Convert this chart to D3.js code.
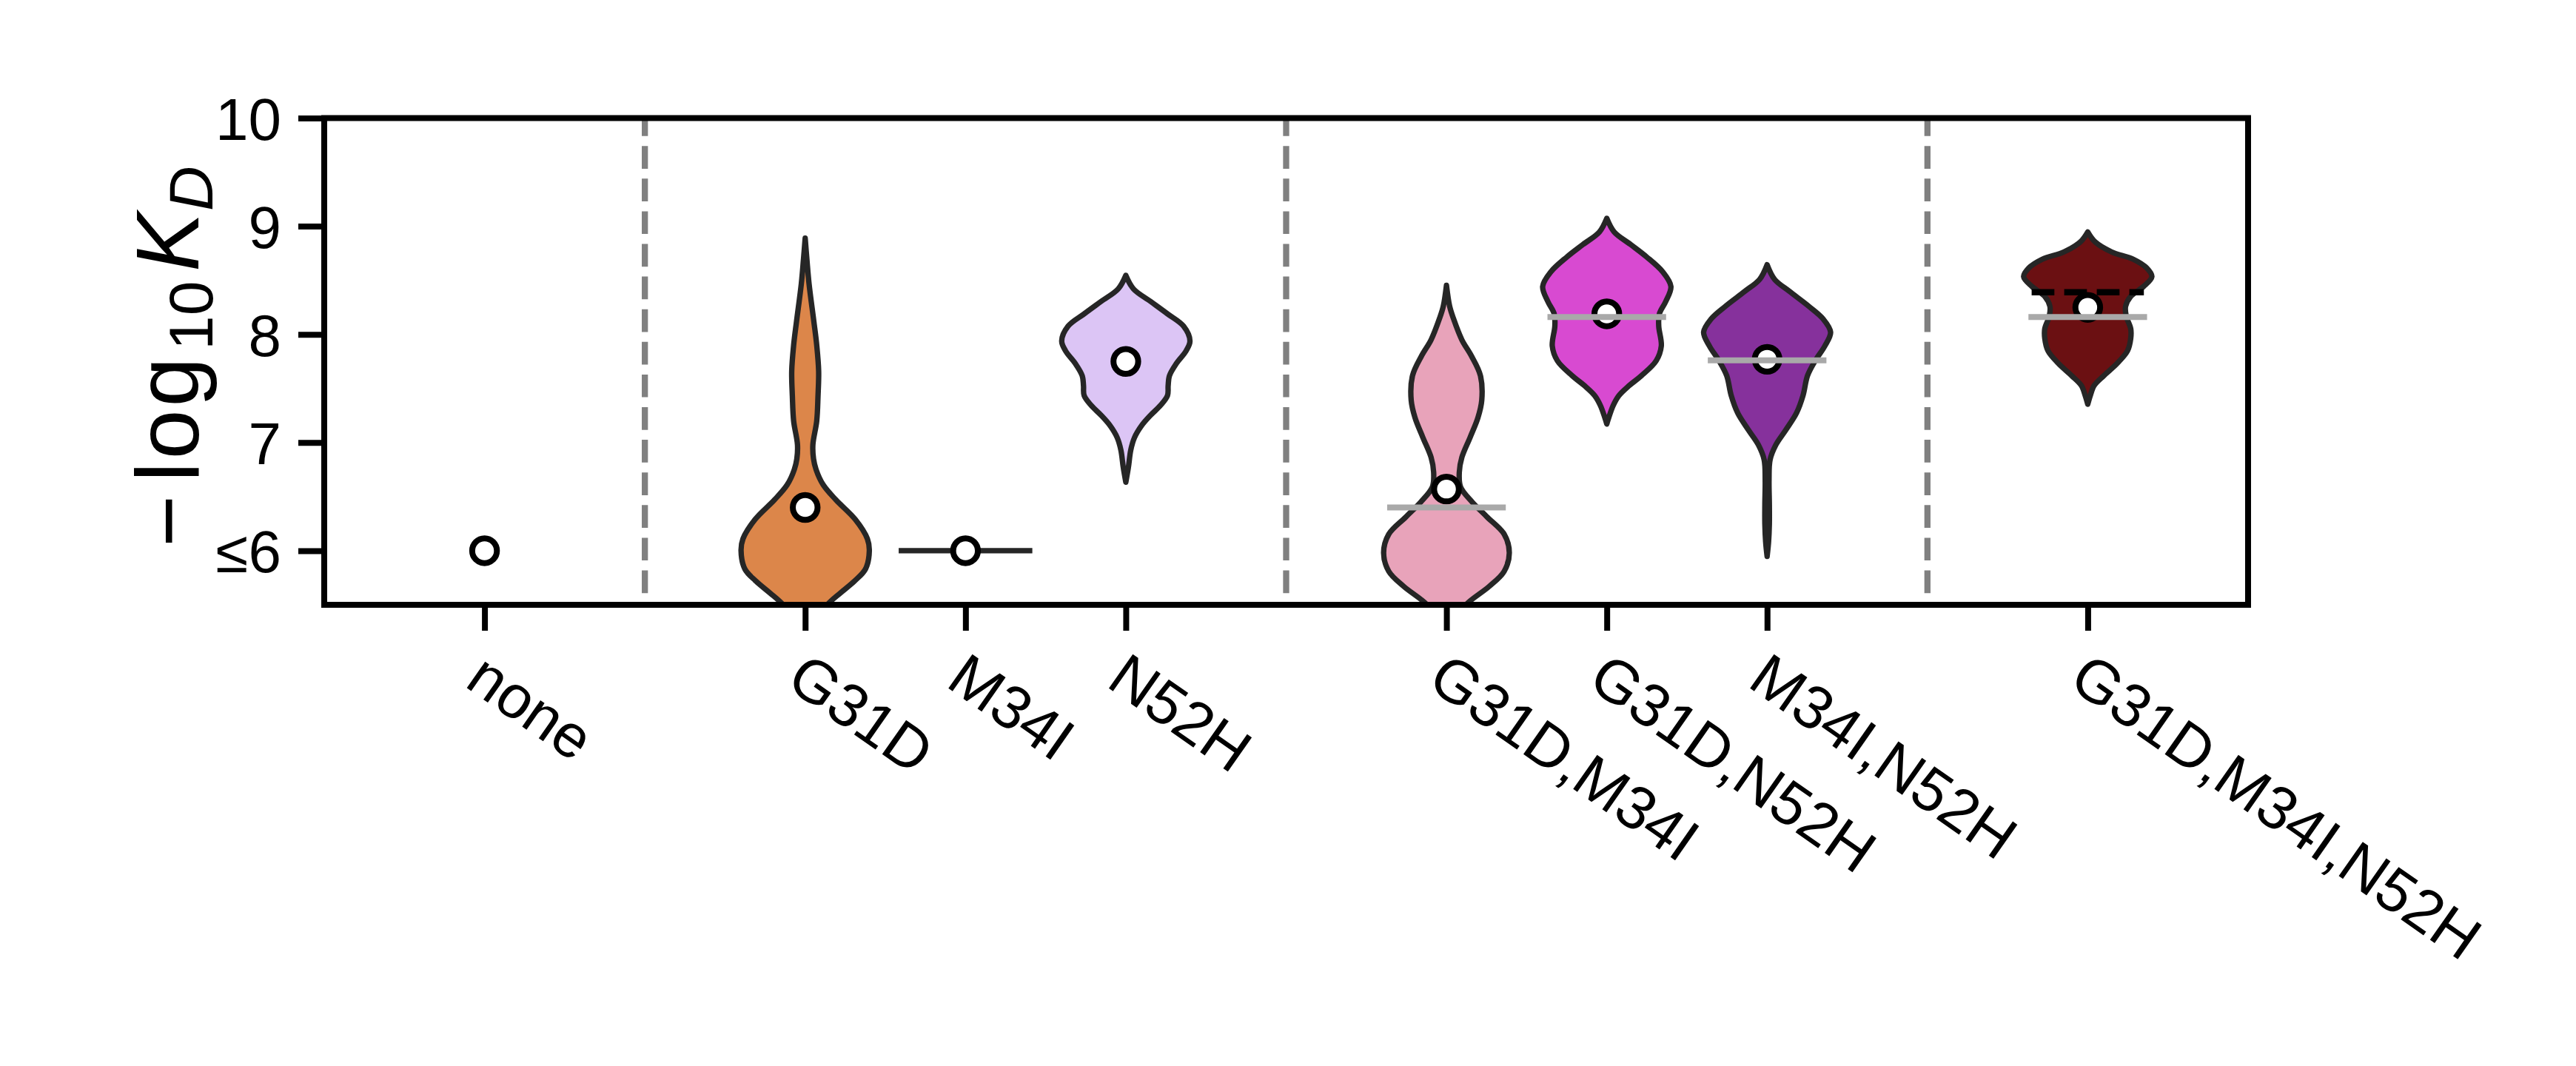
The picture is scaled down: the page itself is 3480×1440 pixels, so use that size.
<!DOCTYPE html>
<html>
<head>
<meta charset="utf-8">
<script src="https://cdn.jsdelivr.net/npm/d3@7"></script>
<style>
  html, body { margin: 0; padding: 0; background: #ffffff; }
  svg { display: block; font-family: "Liberation Sans", Arial, sans-serif; }
</style>
</head>
<body>
<svg id="chart" width="3480" height="1440"></svg>
<script>
// ---------------- data ----------------
const categories = ["none", "G31D", "M34I", "N52H", "G31D,M34I", "G31D,N52H", "M34I,N52H", "G31D,M34I,N52H"];
const mutationCount = [0, 1, 1, 1, 2, 2, 2, 3];
const measured = [6.00, 6.40, 6.00, 7.75, 6.57, 8.19, 7.77, 8.25];
const additiveExpectation = [null, null, null, null, 6.40, 8.16, 7.76, 8.16];
const pairwiseExpectation = [null, null, null, null, null, null, null, 8.39];
const yTickValues = [6, 7, 8, 9, 10];
const yTickLabels = ["≤6", "7", "8", "9", "10"];
const violinColors = [null, "#dc864a", "#262626", "#dcc5f5", "#e8a3ba", "#d84ad1", "#86319c", "#6b1012"];

// violin outlines: [value, relative half-width]
const densityNone = [];
const densityG31D = [[8.89,0],[8.69,0.027],[8.47,0.06],[8.12,0.135],[7.9,0.18],[7.66,0.21],[7.43,0.2],[7.2,0.18],[6.98,0.12],[6.85,0.13],[6.75,0.17],[6.61,0.28],[6.47,0.48],[6.29,0.78],[6.11,0.97],[6.0,1.0],[5.83,0.94],[5.72,0.77],[5.61,0.55],[5.51,0.36],[5.4,0.22],[5.25,0.12],[5.1,0.05],[4.95,0]];
const densityM34I = [[6.0,1]];
const densityN52H = [[8.546,0],[8.42,0.12],[8.305,0.385],[8.19,0.65],[8.076,0.9],[7.939,1.0],[7.848,0.94],[7.733,0.79],[7.618,0.68],[7.527,0.66],[7.435,0.65],[7.343,0.54],[7.252,0.385],[7.16,0.25],[7.046,0.135],[6.931,0.077],[6.771,0.04],[6.634,0]];
const densityG31DM34I = [[8.454,0],[8.259,0.05],[8.145,0.11],[7.95,0.24],[7.8,0.39],[7.618,0.53],[7.39,0.55],[7.229,0.49],[7.05,0.37],[6.863,0.24],[6.726,0.2],[6.589,0.22],[6.451,0.4],[6.314,0.63],[6.153,0.9],[5.981,0.98],[5.81,0.9],[5.672,0.67],[5.51,0.32],[5.4,0.18],[5.25,0.08],[5.1,0.02],[5.0,0]];
const densityG31DN52H = [[9.073,0],[8.947,0.115],[8.832,0.37],[8.717,0.62],[8.58,0.87],[8.443,1.0],[8.305,0.92],[8.19,0.82],[8.076,0.81],[7.893,0.85],[7.756,0.77],[7.618,0.54],[7.527,0.35],[7.435,0.19],[7.343,0.1],[7.229,0.03],[7.172,0]];
const densityM34IN52H = [[8.644,0],[8.51,0.115],[8.397,0.35],[8.26,0.65],[8.145,0.87],[8.02,0.99],[7.893,0.9],[7.756,0.75],[7.618,0.63],[7.435,0.56],[7.275,0.46],[7.115,0.29],[6.977,0.135],[6.84,0.046],[6.656,0.03],[6.427,0.035],[6.244,0.035],[6.084,0.023],[5.947,0]];
const densityG31DM34IN52H = [[8.947,0],[8.855,0.115],[8.763,0.37],[8.695,0.71],[8.614,0.92],[8.534,1.0],[8.443,0.87],[8.351,0.67],[8.259,0.59],[8.168,0.6],[8.053,0.67],[7.962,0.67],[7.848,0.62],[7.733,0.46],[7.618,0.25],[7.527,0.1],[7.435,0.04],[7.355,0]];
const densities = [densityNone, densityG31D, densityM34I, densityN52H, densityG31DM34I, densityG31DN52H, densityM34IN52H, densityG31DM34IN52H];

// ---------------- layout ----------------
const W = 3480, H = 1440;
const plot = { left: 438, right: 3037, top: 159.5, bottom: 817 };
const svg = d3.select("#chart");

// categorical slots with separators between mutation-count groups
const slots = [];
categories.forEach((c, i) => {
  if (i > 0 && mutationCount[i] !== mutationCount[i - 1]) slots.push("sep" + mutationCount[i]);
  slots.push(c);
});
const separators = slots.filter(s => s.startsWith("sep"));

const x = d3.scalePoint().domain(slots).range([plot.left, plot.right]).padding(1);
const y = d3.scaleLinear().domain([5.5, 10]).range([plot.bottom, plot.top]);
const step = x.step();
const halfViolin = 0.4 * step;

svg.append("rect").attr("width", W).attr("height", H).attr("fill", "#ffffff");

svg.append("clipPath").attr("id", "plotClip")
  .append("rect")
  .attr("x", plot.left).attr("y", plot.top)
  .attr("width", plot.right - plot.left).attr("height", plot.bottom - plot.top);

const g = svg.append("g").attr("clip-path", "url(#plotClip)");

// separators
g.selectAll("line.sep").data(separators).join("line")
  .attr("class", "sep")
  .attr("x1", d => x(d)).attr("x2", d => x(d))
  .attr("y1", y(10)).attr("y2", y(5.5))
  .attr("stroke", "#808080").attr("stroke-width", 8.3)
  .attr("stroke-dasharray", "30.7 13.4").attr("stroke-dashoffset", 6.4);

// violins
const area = d3.area()
  .curve(d3.curveCatmullRom.alpha(0.5))
  .y(d => y(d[0]));

categories.forEach((c, i) => {
  const prof = densities[i];
  const cx = x(c);
  if (prof.length === 0) return;
  if (prof.length === 1) {
    g.append("line")
      .attr("x1", cx - halfViolin).attr("x2", cx + halfViolin)
      .attr("y1", y(prof[0][0])).attr("y2", y(prof[0][0]))
      .attr("stroke", "#262626").attr("stroke-width", 7.3)
      .attr("stroke-linecap", "square");
    return;
  }
  area.x0(d => cx - d[1] * halfViolin).x1(d => cx + d[1] * halfViolin);
  g.append("path")
    .datum(prof)
    .attr("d", area)
    .attr("fill", violinColors[i])
    .attr("stroke", "#262626")
    .attr("stroke-width", 7.3)
    .attr("stroke-linejoin", "round");
});

// measured points
g.selectAll("circle.pt").data(categories).join("circle")
  .attr("class", "pt")
  .attr("cx", d => x(d))
  .attr("cy", (d, i) => y(measured[i]))
  .attr("r", 16.7)
  .attr("fill", "#ffffff")
  .attr("stroke", "#000000")
  .attr("stroke-width", 8);

// additive expectation (grey)
categories.forEach((c, i) => {
  if (additiveExpectation[i] == null) return;
  g.append("line")
    .attr("x1", x(c) - 0.37 * step).attr("x2", x(c) + 0.37 * step)
    .attr("y1", y(additiveExpectation[i])).attr("y2", y(additiveExpectation[i]))
    .attr("stroke", "#a9a9a9").attr("stroke-width", 8);
});

// pairwise expectation (black dashed)
categories.forEach((c, i) => {
  if (pairwiseExpectation[i] == null) return;
  g.append("line")
    .attr("x1", x(c) - 0.35 * step).attr("x2", x(c) + 0.35 * step)
    .attr("y1", y(pairwiseExpectation[i])).attr("y2", y(pairwiseExpectation[i]))
    .attr("stroke", "#000000").attr("stroke-width", 8.3)
    .attr("stroke-dasharray", "30.7 13.3");
});

// frame
svg.append("rect")
  .attr("x", plot.left).attr("y", plot.top)
  .attr("width", plot.right - plot.left).attr("height", plot.bottom - plot.top)
  .attr("fill", "none").attr("stroke", "#000000").attr("stroke-width", 8);

// y axis
const yAxis = svg.append("g")
  .attr("transform", `translate(${plot.left},0)`)
  .call(d3.axisLeft(y).tickValues(yTickValues).tickFormat((d, i) => yTickLabels[i]).tickSize(35).tickPadding(23));
yAxis.select(".domain").remove();
yAxis.selectAll(".tick line").attr("stroke", "#000").attr("stroke-width", 8);
yAxis.selectAll(".tick text")
  .attr("fill", "#000").attr("font-size", 80).attr("dy", "0.36em")
  .attr("font-family", "'Liberation Sans', Arial, sans-serif");

// x axis
const xAxis = svg.append("g")
  .attr("transform", `translate(0,${plot.bottom})`)
  .call(d3.axisBottom(x).tickValues(categories).tickSize(35));
xAxis.select(".domain").remove();
xAxis.selectAll(".tick line").attr("stroke", "#000").attr("stroke-width", 8);
xAxis.selectAll(".tick text")
  .attr("x", null).attr("y", null).attr("dy", null)
  .attr("fill", "#000").attr("font-size", 82)
  .attr("font-family", "'Liberation Sans', Arial, sans-serif")
  .attr("text-anchor", "start")
  .attr("transform", "translate(-29,109) rotate(35)");

// y label: −log10 K_D
const yl = svg.append("text")
  .attr("transform", "translate(268,737) rotate(-90)")
  .attr("font-size", 120)
  .attr("fill", "#000")
  .attr("font-family", "'Liberation Sans', Arial, sans-serif");
yl.append("tspan").attr("x", -2).attr("y", 0).text("−");
yl.append("tspan").attr("x", 86).attr("y", 0).attr("letter-spacing", 4).text("log");
yl.append("tspan").attr("x", 264).attr("y", 19).attr("font-size", 84).text("10");
yl.append("tspan").attr("x", 370).attr("y", 0).attr("font-style", "italic").text("K");
yl.append("tspan").attr("x", 452).attr("y", 19).attr("font-size", 84).attr("font-style", "italic").text("D");
</script>
</body>
</html>
